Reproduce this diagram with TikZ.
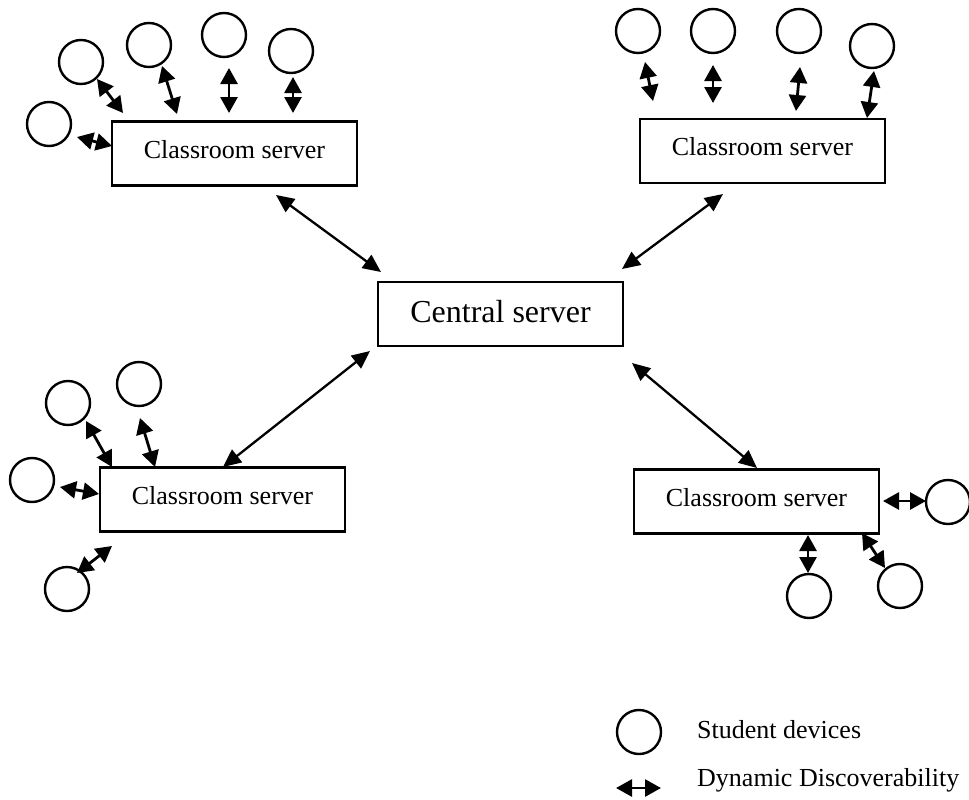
\documentclass[tikz,border=0pt]{standalone}
\usepackage{fontspec}
\setmainfont{Liberation Serif}
\usetikzlibrary{arrows.meta}
\begin{document}
\begin{tikzpicture}[x=1pt,y=-1pt,
  server/.style={draw,line width=2.5pt,minimum width=245pt,minimum height=64pt,inner sep=0pt,text depth=9pt,font=\fontsize{26}{30}\selectfont},
  central/.style={server,text depth=5pt,font=\fontsize{32}{36}\selectfont},
  dev/.style={draw,circle,line width=2.4pt,minimum size=44pt,inner sep=0pt},
  dd/.style={line width=2.8pt,{Triangle[length=16pt,width=17pt]}-{Triangle[length=16pt,width=17pt]}},
  link/.style={line width=2.3pt,{Triangle[length=18pt,width=16pt]}-{Triangle[length=18pt,width=16pt]}},
  legtext/.style={anchor=base west,inner sep=0pt,font=\fontsize{26}{30}\selectfont}]
\useasboundingbox (0,0) rectangle (969,800);

% servers
\node[central] (cs) at (500.5,314) {Central server};
\node[server] (tl) at (234.5,153.5) {Classroom server};
\node[server] (tr) at (762.5,151) {Classroom server};
\node[server] (bl) at (222.5,499.5) {Classroom server};
\node[server] (br) at (756.5,501.5) {Classroom server};

% links to central server
\coordinate (tlA) at (276,195); \coordinate (csTL) at (381,272);
\coordinate (trA) at (723,194); \coordinate (csTR) at (622,269);
\coordinate (blA) at (223,467); \coordinate (csBL) at (370,351);
\coordinate (brA) at (757,468); \coordinate (csBR) at (632,363);
\draw[link] (tlA) -- (csTL);
\draw[link] (trA) -- (csTR);
\draw[link] (blA) -- (csBL);
\draw[link] (brA) -- (csBR);

% top-left devices
\node[dev] (tl0) at (49,124) {};
\node[dev] (tl1) at (81,62) {};
\node[dev] (tl2) at (149,45) {};
\node[dev] (tl3) at (224,35) {};
\node[dev] (tl4) at (291,51) {};
\coordinate (tl0a) at (77,137);  \coordinate (tl0b) at (112,146);
\coordinate (tl1a) at (97,79);   \coordinate (tl1b) at (123,113);
\coordinate (tl2a) at (162,66);  \coordinate (tl2b) at (177,114);
\coordinate (tl3a) at (229,68);  \coordinate (tl3b) at (229,113);
\coordinate (tl4a) at (293,77);  \coordinate (tl4b) at (293,113);
\foreach \i in {0,...,4} {\draw[dd] (tl\i a) -- (tl\i b);}

% top-right devices
\node[dev] (tr1) at (638,31) {};
\node[dev] (tr2) at (713,31) {};
\node[dev] (tr3) at (799,31) {};
\node[dev] (tr4) at (872,46) {};
\coordinate (tr1a) at (645,62);  \coordinate (tr1b) at (653,101);
\coordinate (tr2a) at (713,65);  \coordinate (tr2b) at (713,103);
\coordinate (tr3a) at (800,67);  \coordinate (tr3b) at (796,111);
\coordinate (tr4a) at (874,71);  \coordinate (tr4b) at (867,118);
\foreach \i in {1,...,4} {\draw[dd] (tr\i a) -- (tr\i b);}

% bottom-left devices
\node[dev] (bl0) at (32,480) {};
\node[dev] (bl1) at (68,403) {};
\node[dev] (bl2) at (139,384) {};
\node[dev] (bl3) at (67,589) {};
\coordinate (bl0a) at (60,487);  \coordinate (bl0b) at (99,494);
\coordinate (bl1a) at (86,421);  \coordinate (bl1b) at (112,467);
\coordinate (bl2a) at (140,418); \coordinate (bl2b) at (155,467);
\coordinate (bl3a) at (112,546); \coordinate (bl3b) at (77,573);
\foreach \i in {0,...,3} {\draw[dd] (bl\i a) -- (bl\i b);}

% bottom-right devices
\node[dev] (br0) at (948,502) {};
\node[dev] (br1) at (809,596) {};
\node[dev] (br2) at (900,586) {};
\coordinate (br0a) at (883,501); \coordinate (br0b) at (926,501);
\coordinate (br1a) at (808,535); \coordinate (br1b) at (808,573);
\coordinate (br2a) at (862,533); \coordinate (br2b) at (885,568);
\foreach \i in {0,...,2} {\draw[dd] (br\i a) -- (br\i b);}

% legend
\node[dev] (lgc) at (639,732) {};
\coordinate (lga) at (616,788); \coordinate (lgb) at (661,788);
\draw[dd] (lga) -- (lgb);
\node[legtext] (lg1) at (697,738) {Student devices};
\node[legtext] (lg2) at (697,786) {Dynamic Discoverability};
\end{tikzpicture}
\end{document}
